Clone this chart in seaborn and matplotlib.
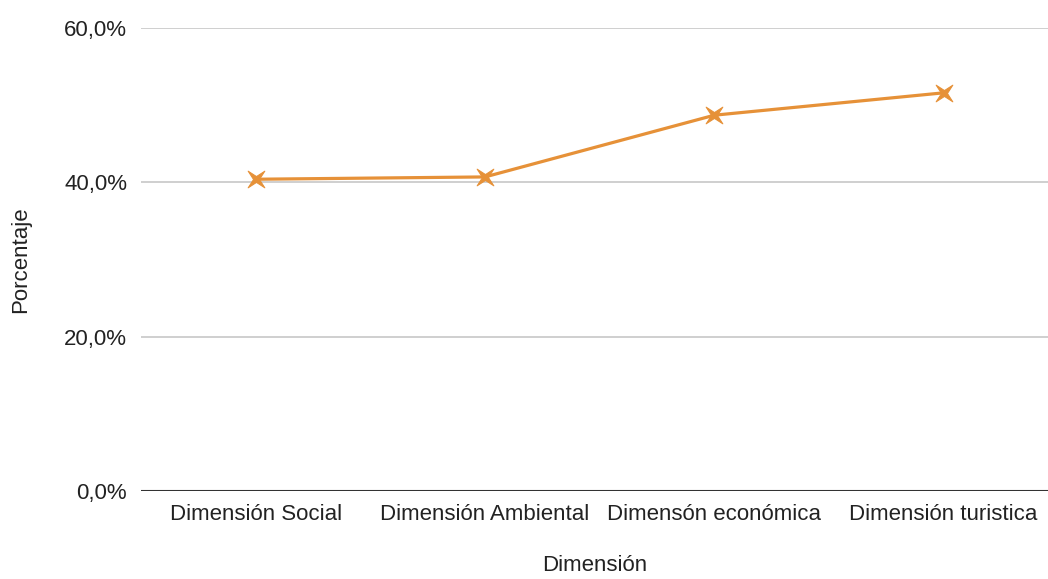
import matplotlib
matplotlib.use("Agg")
import matplotlib.pyplot as plt
import seaborn as sns
import pandas as pd
import numpy as np
from matplotlib.ticker import FuncFormatter
from matplotlib.path import Path

categories = ["Dimensión Social", "Dimensión Ambiental", "Dimensón económica", "Dimensión turistica"]
values = [40.4, 40.7, 48.7, 51.6]
y_ticks = [0, 20, 40, 60]

sns.set_theme(style="white")
plt.rcParams['font.family'] = ['Liberation Sans', 'DejaVu Sans']

df = pd.DataFrame({"Dimensión": categories, "Porcentaje": values})

# 4-pointed concave star marker, points on diagonals
ang = np.deg2rad(np.arange(45, 405, 45))
rad = np.array([1.0, 0.25] * 4)
verts = np.column_stack([rad * np.cos(ang), rad * np.sin(ang)])
verts = np.vstack([verts, verts[:1]])
star = Path(verts, closed=True)

fig = plt.figure(figsize=(10.48, 5.79), dpi=100)
ax = fig.add_axes([141/1048, 1-491/579, 1-141/1048, (491-28)/579])

sns.lineplot(data=df, x="Dimensión", y="Porcentaje", ax=ax, color="#E69138",
             linewidth=2.3, marker=star, markersize=12,
             markeredgecolor="#E69138", markerfacecolor="#E69138", sort=False)

ax.set_xlim(-0.5, 3.455)
ax.set_ylim(0, 60)
ax.set_yticks(y_ticks)
ax.yaxis.set_major_formatter(FuncFormatter(lambda v, p: f"{v:.1f}%".replace(".", ",")))
for s in ["top", "right", "left", "bottom"]:
    ax.spines[s].set_visible(False)
ax.grid(axis="y", color="#cccccc", linewidth=1.3)
ax.grid(axis="x", visible=False)
ax.axhline(0, color="#333333", linewidth=1.5, zorder=3)
ax.tick_params(axis="both", length=0, labelsize=16, colors="#222222")
ax.tick_params(axis="y", pad=10)
ax.tick_params(axis="x", pad=9)
ax.set_xlabel("Dimensión", fontsize=16, color="#222222", labelpad=22)
ax.set_ylabel("Porcentaje", fontsize=16, color="#222222", labelpad=24)

fig.savefig("out.png", dpi=100)
